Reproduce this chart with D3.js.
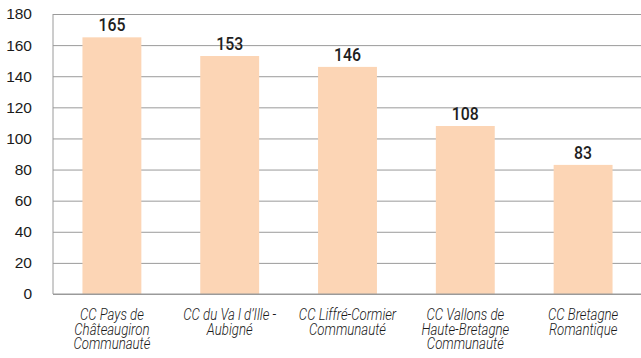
<!DOCTYPE html>
<html>
<head>
<meta charset="utf-8">
<script src="https://cdn.jsdelivr.net/npm/d3@7"></script>
<style>
  body { margin: 0; background: #fff; }
  #chart { width: 641px; height: 358px; }
</style>
</head>
<body>
<div id="chart"></div>
<script>
const categories = [
  ['CC Pays de', 'Châteaugiron', 'Communauté'],
  ['CC du Va l d\u2019Ille -', 'Aubigné'],
  ['CC Liffré-Cormier', 'Communauté'],
  ['CC Vallons de', 'Haute-Bretagne', 'Communauté'],
  ['CC Bretagne', 'Romantique']
];
const values = [165, 153, 146, 108, 83];
const yTicks = [0, 20, 40, 60, 80, 100, 120, 140, 160, 180];

const margin = { top: 14, right: -1, bottom: 64, left: 53 };
const width = 641 - margin.left - margin.right;
const height = 358 - margin.top - margin.bottom;

const svg = d3.select('#chart')
  .append('svg')
  .attr('width', 641)
  .attr('height', 358)
  .append('g')
  .attr('transform', `translate(${margin.left},${margin.top})`);

const x = d3.scaleBand()
  .domain(d3.range(values.length))
  .range([0, width])
  .paddingInner(0.5)
  .paddingOuter(0.25);

const y = d3.scaleLinear()
  .domain([0, 180])
  .range([height, 0]);

// Gridlines
svg.append('g')
  .call(d3.axisLeft(y).tickValues(yTicks).tickSize(-width).tickFormat(''))
  .call(g => g.select('.domain').remove())
  .call(g => g.selectAll('.tick line').attr('stroke', '#9a9a9a').attr('stroke-width', 1));

// Y labels
svg.append('g')
  .call(d3.axisLeft(y).tickValues(yTicks).tickSize(0).tickPadding(21))
  .call(g => g.select('.domain').remove())
  .call(g => g.selectAll('.tick text')
    .attr('fill', '#1a1a1a')
    .attr('font-family', 'Liberation Sans, Arimo, Arial, Roboto, sans-serif')
    .attr('font-size', 15.5));

// Bars
svg.selectAll('rect.bar')
  .data(values)
  .enter()
  .append('rect')
  .attr('class', 'bar')
  .attr('x', (d, i) => x(i))
  .attr('y', d => y(d))
  .attr('width', x.bandwidth())
  .attr('height', d => height - y(d))
  .attr('fill', '#fcd5b5');

// Axis lines
svg.append('line')
  .attr('x1', 0).attr('x2', 0)
  .attr('y1', 0).attr('y2', height)
  .attr('stroke', '#9a9a9a');
svg.append('line')
  .attr('x1', 0).attr('x2', width)
  .attr('y1', height).attr('y2', height)
  .attr('stroke', '#9a9a9a');

// Value labels
svg.selectAll('text.val')
  .data(values)
  .enter()
  .append('text')
  .attr('class', 'val')
  .attr('text-anchor', 'middle')
  .attr('transform', (d, i) => `translate(${x(i) + x.bandwidth() / 2},${y(d) - 6}) scale(0.88,1)`)
  .text(d => d)
  .attr('font-family', 'Roboto, sans-serif')
  .attr('font-weight', 500)
  .attr('font-size', 18)
  .attr('fill', '#1e1e1e');

// Category labels
const cat = svg.selectAll('text.cat')
  .data(categories)
  .enter()
  .append('text')
  .attr('class', 'cat')
  .attr('text-anchor', 'middle')
  .attr('transform', (d, i) => `translate(${x(i) + x.bandwidth() / 2},${height + 26}) scale(0.8,1)`)
  .attr('font-family', 'Roboto, sans-serif')
  .attr('font-style', 'italic')
  .attr('font-weight', 300)
  .attr('font-size', 16.5)
  .attr('fill', '#1a1a1a');

cat.selectAll('tspan')
  .data(d => d)
  .enter()
  .append('tspan')
  .attr('x', 0)
  .attr('y', (d, j) => j === 2 ? 29 : j * 15)
  .text(d => d);
</script>
</body>
</html>
